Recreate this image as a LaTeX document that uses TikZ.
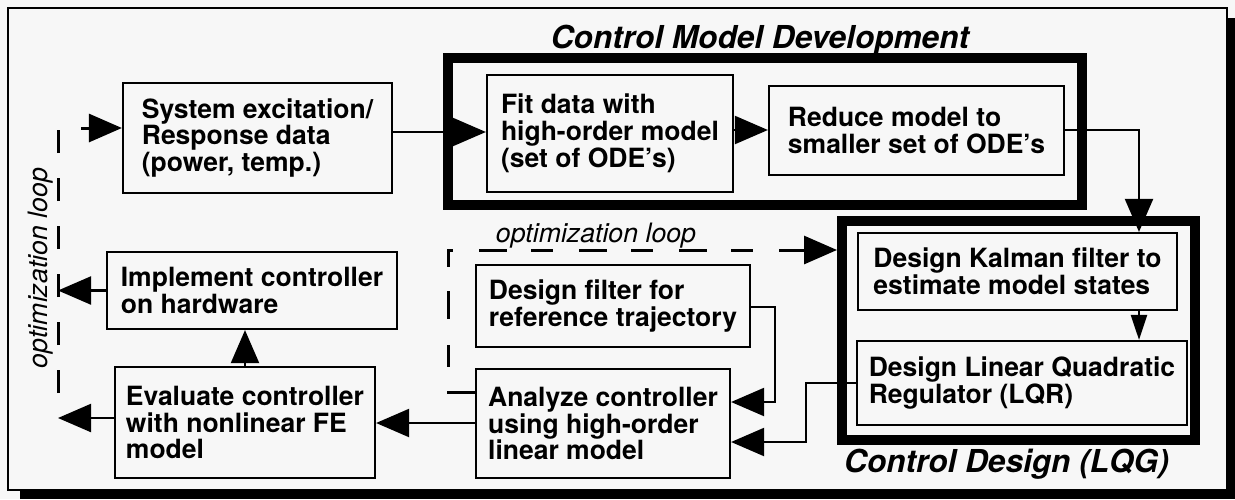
\documentclass[tikz,border=0pt]{standalone}
\usepackage{fontspec}
\setmainfont{TeX Gyre Heros}
\usetikzlibrary{arrows.meta}
\definecolor{bg}{RGB}{247,247,247}
\begin{document}
\begin{tikzpicture}[x=1pt,y=-1pt,
  box/.style={draw, line width=2.2pt, align=left, inner sep=0pt,
    font=\fontsize{26.5}{26.8}\selectfont\bfseries},
  heavy/.style={draw, line width=10pt, inner sep=0pt},
  arr/.style={line width=2.2pt, -{Triangle[length=33pt,width=28pt]}},
  smallarr/.style={line width=2.2pt, -{Triangle[length=25pt,width=16pt]}},
  dashloop/.style={line width=3pt, dash pattern=on 23pt off 25pt,
    -{Triangle[length=33pt,width=28pt]}},
  titletext/.style={font=\fontsize{31.6}{32}\selectfont\bfseries\itshape},
  looptext/.style={font=\fontsize{26.7}{27}\selectfont\itshape}
]
\useasboundingbox (0,0) rectangle (1235,499);
\fill[bg] (0,0) rectangle (1235,499);
% drop shadow and frame
\fill[black] (1227,18) rectangle (1235,499);
\fill[black] (20,490) rectangle (1235,499);
\draw[line width=1.5pt] (8,8) rectangle (1227,490);

% heavy group frames
\node[heavy, minimum width=634pt, minimum height=147pt] (cmd) at (765,131.5) {};
\node[heavy, minimum width=353pt, minimum height=219pt] (ctl) at (1018.5,330.5) {};

% titles
\node[titletext, anchor=base] (t1) at (760,48) {Control Model Development};
\node[titletext, anchor=base] (t2) at (1006.5,472) {Control Design (LQG)};

% boxes
\node[box, minimum width=269pt, minimum height=110pt] (sys) at (257.5,138) {System excitation/\\Response data\\(power, temp.)};
\node[box, minimum width=246pt, minimum height=117pt] (fit) at (610,133.5) {Fit data with\\high-order model\\(set of ODE’s)};
\node[box, minimum width=295pt, minimum height=89pt] (red) at (916.5,130.5) {Reduce model to\\smaller set of ODE’s};
\node[box, minimum width=319pt, minimum height=77pt] (kal) at (1017.5,271.5) {Design Kalman filter to\\estimate model states};
\node[box, minimum width=330pt, minimum height=84pt] (lqr) at (1022,383) {Design Linear Quadratic\\Regulator (LQR)};
\node[box, minimum width=290pt, minimum height=77pt] (imp) at (252,290.5) {Implement controller\\on hardware};
\node[box, minimum width=260pt, minimum height=111pt] (eval) at (245,422.5) {Evaluate controller\\with nonlinear FE\\model};
\node[box, minimum width=274pt, minimum height=82pt] (filt) at (613,306) {Design filter for\\reference trajectory};
\node[box, minimum width=254pt, minimum height=109pt] (ana) at (603,423.5) {Analyze controller\\using high-order\\linear model};

% helper coordinates
\coordinate (y132) at (0,132);
\coordinate (y130) at (0,130);
\coordinate (xk) at (1139,0);
\coordinate (r1) at (1139,130);
\coordinate (q1) at (806,383);
\coordinate (q2) at (806,442);
\coordinate (f1) at (775,307);
\coordinate (f2) at (775,402);
\coordinate (y307) at (0,307);
\coordinate (y423) at (0,423);
\coordinate (y418) at (0,418);
\coordinate (y392) at (0,392);
\coordinate (Limp) at (58,290.5);
\coordinate (Lev) at (58,418);
\coordinate (Lbot) at (58,393);
\coordinate (Ltop) at (58,128);
\coordinate (Mbot) at (448,392);
\coordinate (Mtop) at (448,250);

% solid connectors
\draw[arr] (sys.east |- y132) -- (fit.west |- y132);
\draw[arr] (fit.east |- y130) -- (red.west |- y130);
\draw[arr] (red.east |- y130) -- (r1) -- (xk |- kal.north);
\draw[smallarr] (xk |- kal.south) -- (xk |- lqr.north);
\draw[arr] (lqr.west) -- (q1) -- (q2) -- (ana.east |- q2);
\draw[arr] (filt.east |- y307) -- (f1) -- (f2) -- (ana.east |- f2);
\draw[arr] (ana.west |- y423) -- (eval.east |- y423);
\draw[arr] (eval.north) -- (eval.north |- imp.south);
\draw[arr] (imp.west) -- (Limp);
\draw[arr] (eval.west |- y418) -- (Lev);

% optimization loops (dashed)
\draw[dashloop] (Lbot) -- (Ltop) -- (sys.west |- Ltop);
\draw[dashloop, dash pattern=on 28pt off 24pt on 22pt off 26pt] (ana.west |- y392) -- (Mbot) -- (Mtop) -- (ctl.west |- Mtop);

% loop labels
\node[looptext, rotate=90] (lab1) at (41,268) {optimization loop};
\node[looptext, anchor=base] (lab2) at (596,242) {optimization loop};
\end{tikzpicture}
\end{document}
